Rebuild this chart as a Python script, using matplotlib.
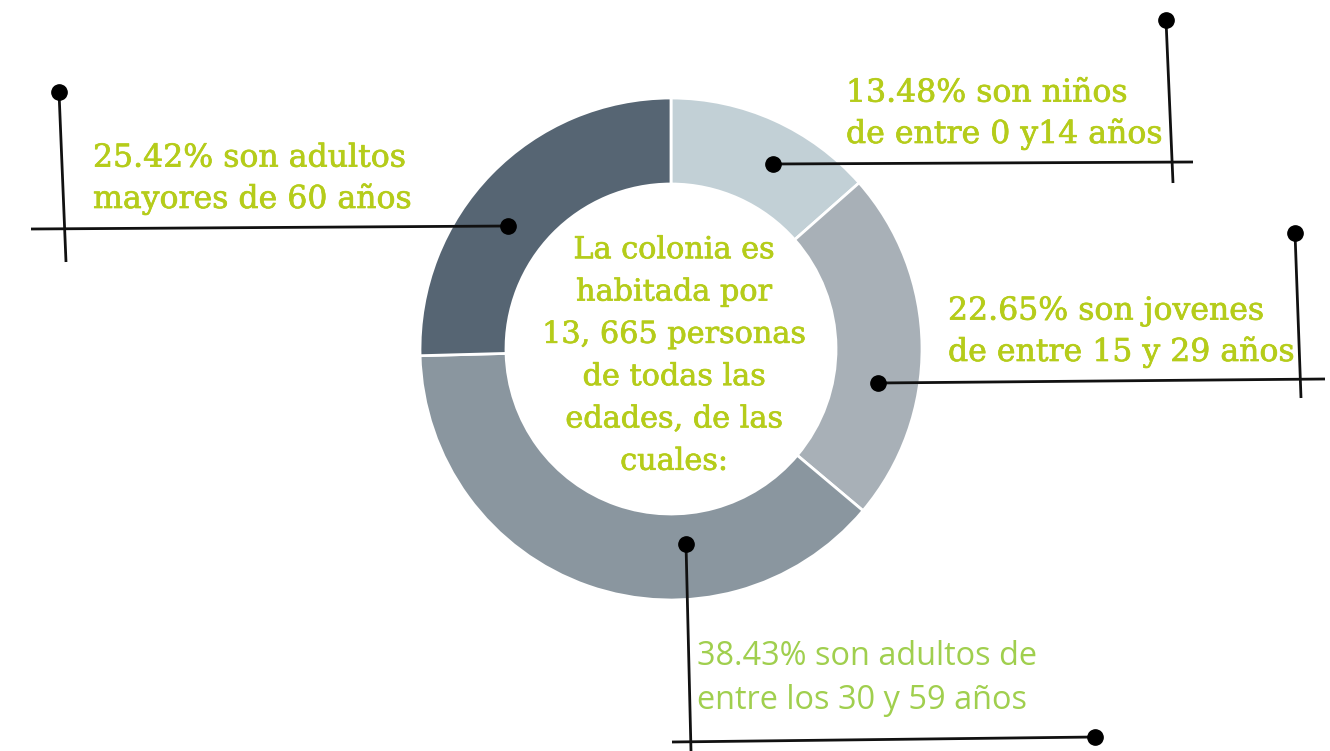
import matplotlib.pyplot as plt
import matplotlib.patheffects as pe

# donut data (clockwise from the top)
shares = [13.48, 22.65, 38.43, 25.42]
colors = ['#c2d0d6', '#a8b0b7', '#8a969f', '#566573']

center_text = 'La colonia es\nhabitada por\n13, 665 personas\nde todas las\nedades, de las\ncuales:'
labels = [
    '13.48% son niños\nde entre 0 y14 años',
    '22.65% son jovenes\nde entre 15 y 29 años',
    '38.43% son adultos de\nentre los 30 y 59 años',
    '25.42% son adultos\nmayores de 60 años',
]

W, H = 1330, 751
slab_green = '#b5cc1a'
sans_green = '#a0cf4e'

fig = plt.figure(figsize=(W / 100, H / 100), dpi=100)
ax = fig.add_axes([0, 0, 1, 1])

# y axis runs downward, so counterclock in data = clockwise on screen
ax.pie(shares, colors=colors, startangle=-90, counterclock=True,
       center=(671, 349), radius=251,
       wedgeprops=dict(width=86, edgecolor='white', linewidth=2))

ax.set_xlim(0, W)
ax.set_ylim(H, 0)
ax.set_aspect('equal')
ax.axis('off')

# a thin stroke in the text colour makes the serif a bit heavier
heavy = [pe.withStroke(linewidth=0.5, foreground=slab_green)]

ax.text(674, 356, center_text, ha='center', va='center', color=slab_green,
        family='DejaVu Serif', fontsize=21.8, linespacing=1.65,
        path_effects=heavy)

# leader lines: (horizontal segment, vertical segment, dot positions)
leaders = [
    (((773, 164), (1193, 162)), ((1166, 20), (1173, 183)), [(773, 164), (1166, 20)]),
    (((878, 383), (1325, 379)), ((1295, 233), (1301, 398)), [(878, 383), (1295, 233)]),
    (((672, 742), (1095, 737)), ((686, 544), (691, 751)), [(686, 544), (1095, 737)]),
    (((31, 229), (508, 226)), ((59, 92), (66, 262)), [(59, 92), (508, 226)]),
]
for hseg, vseg, dots in leaders:
    for seg in (hseg, vseg):
        ax.plot([seg[0][0], seg[1][0]], [seg[0][1], seg[1][1]],
                color='#111111', lw=2.0, solid_capstyle='butt')
    ax.plot([d[0] for d in dots], [d[1] for d in dots], 'o',
            color='black', markersize=11)

label_pos = [(846, 143), (948, 361), (697, 709), (93, 208)]
for i, (txt, (x, y)) in enumerate(zip(labels, label_pos)):
    if i == 2:
        ax.text(x, y, txt, ha='left', va='baseline', color=sans_green,
                family='Open Sans', fontsize=23.4, linespacing=1.45)
    else:
        ax.text(x, y, txt, ha='left', va='baseline', color=slab_green,
                family='DejaVu Serif', fontsize=22.7, linespacing=1.4,
                path_effects=heavy)

fig.savefig('out.png', dpi=100)
